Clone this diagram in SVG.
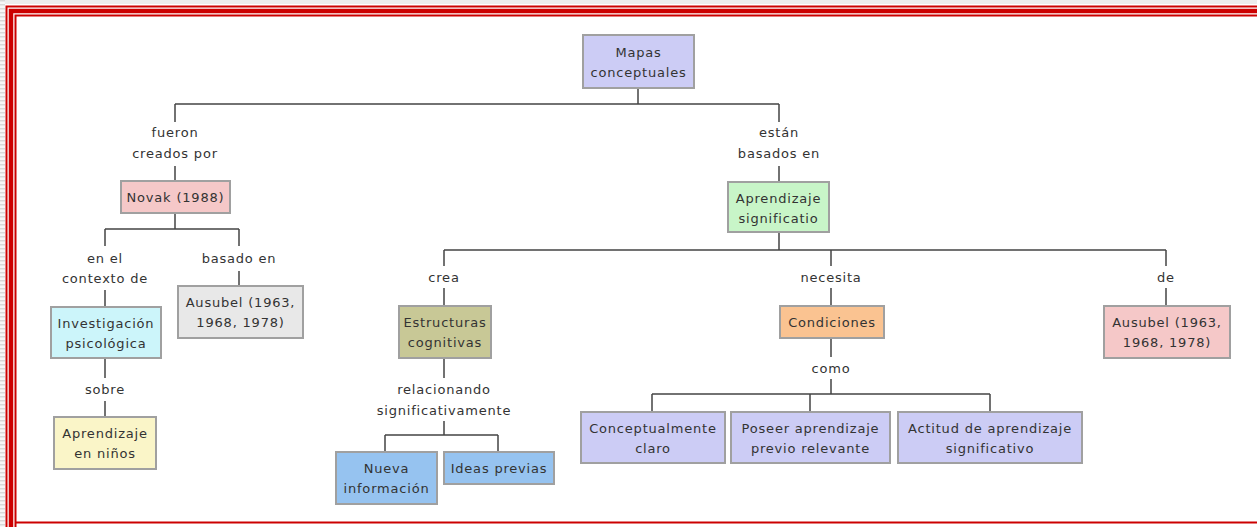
<svg xmlns="http://www.w3.org/2000/svg" width="1257" height="527" viewBox="0 0 1257 527">
<defs>
<pattern id="stripes" width="6" height="4" patternUnits="userSpaceOnUse">
<rect width="6" height="4" fill="#f6f6f6"/>
<rect width="6" height="1.5" fill="#d8d8d8"/>
</pattern>
<style>
.box{stroke:#a0a0a0;stroke-width:2}
.t{font-family:"DejaVu Sans",Verdana,sans-serif;font-size:13px;letter-spacing:0.8px;fill:#333;text-anchor:middle}
.c{fill:none;stroke:#444;stroke-width:1.5}
.red{fill:none;stroke:#cc0000}
</style>
</defs>
<rect width="1257" height="527" fill="#fff"/>
<rect x="0" y="0" width="1257" height="4" fill="#ececec"/>
<rect x="0" y="0" width="5" height="527" fill="url(#stripes)"/>
<g id="frame">
<path class="red" stroke-width="2" d="M6.5 527 V6.5 H1257"/>
<path class="red" stroke-width="4.5" d="M11 527 V11 H1257"/>
<path class="red" stroke-width="2" d="M15.5 527 V15.5 H1257"/>
<path class="red" stroke-width="2.2" d="M15.5 522.5 H1257"/>
</g>
<g id="connectors">
<path class="c" d="M638 88 V104 M175 104 H779 M175 104 V122 M175 166 V181 M779 104 V122 M779 166 V182"/>
<path class="c" d="M175 213 V229 M105 229 H239 M105 229 V246 M239 229 V246 M105 290 V307 M239 271 V286"/>
<path class="c" d="M105 358 V378 M105 401 V417"/>
<path class="c" d="M779 232 V250 M444 250 H1166 M444 250 V266 M444 288 V306 M831 250 V266 M831 288 V306 M1166 250 V266 M1166 288 V306"/>
<path class="c" d="M444 358 V378 M444 421 V435 M385 435 H498 M385 435 V452 M498 435 V452"/>
<path class="c" d="M831 338 V357 M831 379 V394 M652 394 H990 M652 394 V412 M810 394 V412 M990 394 V412"/>
</g>
<g id="labels">
<text class="t" x="175" y="136.5">fueron</text>
<text class="t" x="175" y="157.5">creados por</text>
<text class="t" x="779" y="136.5">están</text>
<text class="t" x="779" y="157.5">basados en</text>
<text class="t" x="105" y="262.5">en el</text>
<text class="t" x="105" y="282.5">contexto de</text>
<text class="t" x="239" y="262.5">basado en</text>
<text class="t" x="105" y="393.5">sobre</text>
<text class="t" x="444" y="281.5">crea</text>
<text class="t" x="831" y="281.5">necesita</text>
<text class="t" x="1166" y="281.5">de</text>
<text class="t" x="444" y="393.5">relacionando</text>
<text class="t" x="444" y="414.5">significativamente</text>
<text class="t" x="831" y="372.5">como</text>
</g>
<g id="n-mapas">
<rect class="box" x="583" y="35" width="111" height="53" fill="#ccccf5"/>
<text class="t" x="638.5" y="56.5">Mapas</text>
<text class="t" x="638.5" y="76.5">conceptuales</text>
</g>
<g id="n-novak">
<rect class="box" x="121" y="181" width="109" height="32" fill="#f5c8c8"/>
<text class="t" x="175.5" y="202">Novak (1988)</text>
</g>
<g id="n-investigacion">
<rect class="box" x="51" y="307" width="110" height="51" fill="#ccf5fa"/>
<text class="t" x="106" y="328">Investigación</text>
<text class="t" x="106" y="348">psicológica</text>
</g>
<g id="n-ausubel-gris">
<rect class="box" x="178" y="286" width="125" height="52" fill="#e8e8e8"/>
<text class="t" x="240.5" y="307">Ausubel (1963,</text>
<text class="t" x="240.5" y="327">1968, 1978)</text>
</g>
<g id="n-aprendizaje-ninos">
<rect class="box" x="54" y="417" width="102" height="52" fill="#faf5c8"/>
<text class="t" x="105" y="438">Aprendizaje</text>
<text class="t" x="105" y="458">en niños</text>
</g>
<g id="n-aprendizaje-significativo">
<rect class="box" x="728" y="182" width="101" height="50" fill="#c8f5c8"/>
<text class="t" x="778.5" y="202.5">Aprendizaje</text>
<text class="t" x="778.5" y="222.5">significatio</text>
</g>
<g id="n-estructuras">
<rect class="box" x="399" y="306" width="92" height="52" fill="#c8c896"/>
<text class="t" x="445" y="327">Estructuras</text>
<text class="t" x="445" y="347">cognitivas</text>
</g>
<g id="n-nueva">
<rect class="box" x="336" y="452" width="101" height="52" fill="#96c3f0"/>
<text class="t" x="386.5" y="473">Nueva</text>
<text class="t" x="386.5" y="493">información</text>
</g>
<g id="n-ideas">
<rect class="box" x="444" y="452" width="110" height="32" fill="#96c3f0"/>
<text class="t" x="499" y="473">Ideas previas</text>
</g>
<g id="n-condiciones">
<rect class="box" x="780" y="306" width="104" height="32" fill="#fac391"/>
<text class="t" x="832" y="327">Condiciones</text>
</g>
<g id="n-ausubel-rosa">
<rect class="box" x="1104" y="306" width="126" height="52" fill="#f5c8c8"/>
<text class="t" x="1167" y="327">Ausubel (1963,</text>
<text class="t" x="1167" y="347">1968, 1978)</text>
</g>
<g id="n-conceptualmente">
<rect class="box" x="581" y="412" width="144" height="51" fill="#ccccf5"/>
<text class="t" x="653" y="433">Conceptualmente</text>
<text class="t" x="653" y="453">claro</text>
</g>
<g id="n-poseer">
<rect class="box" x="731" y="412" width="159" height="51" fill="#ccccf5"/>
<text class="t" x="810.5" y="433">Poseer aprendizaje</text>
<text class="t" x="810.5" y="453">previo relevante</text>
</g>
<g id="n-actitud">
<rect class="box" x="898" y="412" width="184" height="51" fill="#ccccf5"/>
<text class="t" x="990" y="433">Actitud de aprendizaje</text>
<text class="t" x="990" y="453">significativo</text>
</g>
</svg>
